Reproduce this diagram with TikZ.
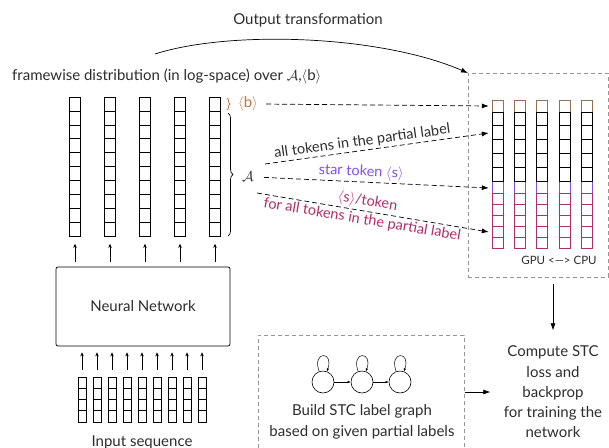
\documentclass[tikz,border=0pt]{standalone}
\usepackage{fontspec}
\setmainfont{Lato}
\usetikzlibrary{arrows.meta,decorations.pathreplacing,calc}
\definecolor{bcol}{RGB}{185,120,60}
\definecolor{bcell}{RGB}{150,110,80}
\definecolor{scol}{RGB}{130,80,230}
\definecolor{mcol}{RGB}{175,45,105}
\definecolor{boxgray}{RGB}{150,150,150}
\definecolor{txt}{RGB}{45,45,45}
\begin{document}
\begin{tikzpicture}[x=1pt,y=-1pt,
  font=\fontsize{15}{17}\selectfont, text=txt,
  colnode/.style={draw, line width=0.8pt, minimum width=11pt, inner sep=0pt},
  innode/.style={draw, line width=0.6pt, minimum width=8pt, minimum height=45pt, inner sep=0pt},
  cellline/.style={line width=0.6pt},
  uparr/.style={-{Stealth[length=4pt,width=3.5pt]}, line width=0.6pt},
  bigarr/.style={-{Latex[length=7pt,width=5pt]}, line width=0.7pt},
  darr/.style={-{Latex[length=7pt,width=5pt]}, dash pattern=on 5pt off 3pt, line width=0.7pt},
  gbox/.style={draw=boxgray, dash pattern=on 4pt off 3pt, line width=0.7pt, inner sep=0pt},
  gnode/.style={draw, circle, minimum size=22pt, inner sep=0pt, line width=0.6pt},
  smallarr/.style={-{Latex[length=3pt,width=2.5pt]}, line width=0.5pt},
  lbl/.style={inner sep=1pt, sloped, font=\fontsize{14.5}{16}\selectfont}
]
\useasboundingbox (0,0) rectangle (609,447);

% Title texts
\node (otlab) at (308,20) {Output transformation};
\node[anchor=west, inner sep=0pt] (fwlab) at (12,76) {framewise distribution (in log-space) over $\mathcal{A}$,$\langle$b$\rangle$};

% top frame columns
\foreach \i in {0,...,4} {
  \pgfmathsetmacro\cx{75+35*\i}
  \node[colnode, minimum height=139pt, anchor=north] (c\i) at (\cx,97) {};
  \foreach \k in {1,...,9} {
    \draw[cellline] (\cx-5.5,97+13.9*\k) -- (\cx+5.5,97+13.9*\k);
  }
}

% braces
\draw[bcol, line width=0.8pt, decorate, decoration={brace, amplitude=3pt}] (227,98) -- (227,110);
\node[text=bcol, anchor=west, inner sep=2pt] (blab) at (236,104) {$\langle$b$\rangle$};
\draw[line width=0.7pt, decorate, decoration={brace, amplitude=5pt}] (228,113) -- (228,236);
\node[anchor=west, inner sep=2pt] (Alab) at (240,177) {$\mathcal{A}$};

% neural network
\node[draw, rounded corners=2pt, line width=0.7pt, minimum width=174pt, minimum height=79pt] (nn) at (143,306.5) {Neural Network};

\foreach \i in {0,...,4} {
  \draw[uparr, shorten <=5pt, shorten >=7pt] (c\i.south |- nn.north) -- (c\i.south);
}

% input sequence
\foreach \i in {0,...,8} {
  \pgfmathsetmacro\cx{82+15*\i}
  \node[innode, anchor=north] (in\i) at (\cx,377) {};
  \foreach \k in {1,2,3} {
    \draw[cellline] (\cx-4,377+11.25*\k) -- (\cx+4,377+11.25*\k);
  }
  \draw[uparr, shorten <=7pt, shorten >=6pt] (in\i.north) -- (in\i.north |- nn.south);
}
\node[anchor=base] (inlab) at (142,446) {Input sequence};

% right dashed box (GPU)
\node[gbox, minimum width=140pt, minimum height=204pt, anchor=north west] (gpub) at (468,73) {};
\foreach \i in {0,...,4} {
  \pgfmathsetmacro\cx{497.5+22.3*\i}
  \draw[bcell, line width=0.8pt] (\cx-5.5,100) rectangle (\cx+5.5,112);
  \draw[scol, line width=0.8pt] (\cx-5.5,181) rectangle (\cx+5.5,193);
  \foreach \k in {0,...,4} {
    \draw[mcol, line width=0.8pt] (\cx-5.5,193+11*\k) rectangle (\cx+5.5,193+11*\k+11);
  }
  \foreach \k in {0,...,4} {
    \draw[black, line width=0.8pt] (\cx-5.5,112+13.8*\k) rectangle (\cx+5.5,112+13.8*\k+13.8);
  }
  \node[minimum width=11pt, minimum height=148pt, inner sep=0pt, anchor=north] (r\i) at (\cx,100) {};
}
\node[font=\fontsize{11.5}{13}\selectfont] (gpulab) at (559,260) {GPU <—> CPU};

% dashed arrows
\coordinate (tb) at ($(r0.north west)+(-3,6)$);
\coordinate (t2) at ($(r0.north west)+(-3,33)$);
\coordinate (t3) at ($(r0.north west)+(-3,88)$);
\coordinate (t4) at ($(r0.north west)+(-3,132)$);
\coordinate (s2) at (265,164);
\coordinate (s4) at (257,193);
\draw[darr, shorten <=6pt] (blab.east) -- (tb);
\draw[darr] (s2) -- node[lbl, pos=0.44, above=1pt] {all tokens in the partial label} (t2);
\draw[darr, shorten <=8pt] (Alab.east) -- node[lbl, pos=0.45, above=1pt, text=scol] {star token $\langle$s$\rangle$} (t3);
\draw[darr] (s4) -- node[lbl, pos=0.47, above=1pt, text=mcol] {$\langle$s$\rangle$/token}
  node[lbl, pos=0.46, below=1pt, text=mcol] {for all tokens in the partial label} (t4);

% output transformation curve
\coordinate (otstart) at (155,54);
\draw[bigarr] (otstart) .. controls (230,30) and (380,35) .. (gpub.north west);

% left dashed box (graph)
\node[gbox, minimum width=206pt, minimum height=130pt, anchor=north west] (lbox) at (258,335) {};
\node[gnode] (g1) at (323,382) {};
\node[gnode] (g2) at (362,382) {};
\node[gnode] (g3) at (400,382) {};
\draw[smallarr] (g1) -- (g2);
\draw[smallarr] (g2) -- (g3);
\foreach \g in {g1,g2,g3} {
  \draw[smallarr] (\g.110) .. controls +(-110:22) and +(-70:22) .. (\g.70);
}
\node[align=center, font=\fontsize{15}{21}\selectfont] (buildlab) at (362,422) {Build STC label graph\\based on given partial labels};

% compute node
\node[align=center, font=\fontsize{15}{20.3}\selectfont] (comp) at (553,392) {Compute STC\\loss and\\backprop\\for training the\\network};

\draw[bigarr, shorten >=10pt] (lbox.east |- comp.west) -- (comp.west);
\draw[bigarr, shorten <=6pt, shorten >=12pt] (comp.north |- gpub.south) -- (comp.north);
\end{tikzpicture}
\end{document}
